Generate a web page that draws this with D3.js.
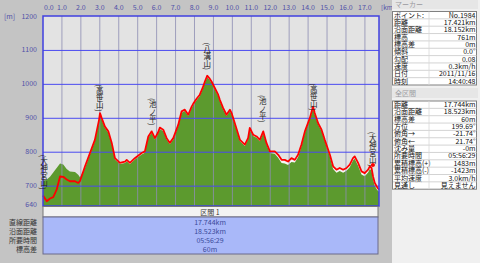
<!DOCTYPE html>
<html>
<head>
<meta charset="utf-8">
<script src="https://cdn.jsdelivr.net/npm/d3@7"></script>
<style>
  body { margin: 0; background: #c4c4c4; }
  svg { display: block; font-family: "Noto Sans CJK JP", "DejaVu Sans", sans-serif; }
</style>
</head>
<body>
<div id="chart"></div>
<script>
// profile data (km, track elevation, terrain elevation)
var kmPts = [0.00, 0.20, 0.37, 0.54, 0.72, 0.90, 1.07, 1.25, 1.42, 1.69, 1.86, 1.95, 2.22, 2.48, 2.74, 2.96,
    3.01, 3.10, 3.27, 3.45, 3.63, 3.80, 4.06, 4.33, 4.42, 4.59, 4.85, 5.21, 5.38, 5.56, 5.74, 5.91,
    6.07, 6.17, 6.35, 6.53, 6.70, 6.88, 7.14, 7.32, 7.49, 7.67, 7.85, 7.93, 8.11, 8.28, 8.43, 8.55,
    8.67, 8.78, 8.90, 9.08, 9.25, 9.34, 9.51, 9.69, 9.87, 9.96, 10.13, 10.40, 10.66, 10.83, 10.92, 11.10,
    11.28, 11.45, 11.63, 11.80, 11.98, 12.24, 12.42, 12.60, 12.77, 12.94, 13.12, 13.30, 13.47, 13.65, 13.83, 14.09,
    14.26, 14.35, 14.53, 14.71, 14.88, 15.15, 15.32, 15.50, 15.67, 15.85, 16.03, 16.20, 16.37, 16.46, 16.64, 16.82,
    16.99, 17.17, 17.26, 17.35, 17.43, 17.52, 17.64, 17.744];
var trackElev = [671, 654, 662, 666, 688, 727, 726, 718, 713, 713, 708, 713, 757, 796, 835, 894,
    914, 899, 874, 860, 826, 781, 767, 771, 776, 767, 781, 796, 801, 845, 860, 840,
    856, 871, 865, 840, 826, 840, 879, 919, 924, 909, 933, 941, 956, 968, 988, 1007,
    1024, 1017, 1007, 987, 968, 953, 929, 909, 924, 914, 884, 835, 821, 840, 870, 850,
    845, 835, 860, 826, 801, 801, 791, 776, 776, 771, 781, 776, 791, 821, 860, 899,
    933, 914, 884, 865, 835, 791, 757, 747, 752, 747, 752, 762, 781, 786, 767, 742,
    737, 747, 757, 752, 727, 708, 696, 688];
var terrainElev = [713, 718, 726, 739, 752, 765, 762, 749, 742, 740, 732, 725, 752, 792, 831, 889,
    908, 895, 870, 856, 822, 777, 764, 767, 772, 763, 777, 792, 797, 841, 856, 836,
    852, 866, 861, 836, 822, 836, 875, 915, 920, 905, 929, 937, 952, 964, 984, 1003,
    1019, 1013, 1003, 983, 964, 949, 925, 905, 920, 910, 880, 831, 817, 836, 865, 846,
    841, 831, 855, 822, 796, 794, 782, 767, 765, 761, 770, 768, 784, 816, 856, 895,
    928, 910, 880, 861, 831, 785, 749, 738, 743, 738, 744, 754, 774, 779, 759, 733,
    728, 739, 749, 744, 718, 700, 688, 682];

var xTicks = d3.range(0, 18);
var yGrid = [700, 800, 900, 1000, 1100];
var yTickLabels = [1200, 1100, 1000, 900, 800, 700, 640];

// waypoints
var peakNames = ['(大神宮山)', '(高笹山)', '(池ノ平)', '(八溝山)', '(池ノ平)', '(高笹山)', '(大神宮山)'];
var peakKm = [0.05, 3.0, 5.8, 8.67, 11.6, 14.3, 17.42];
var peakElev = [676, 906, 865, 1029, 874, 909, 744];
var markerKm = 17.421, markerElev = 761;

// tables
var sectionLabels = ['直線距離', '沿面距離', '所要時間', '標高差'];
var sectionValues = ['17.744km', '18.523km', '05:56:29', '60m'];
var markerLabels = ['ポイント:', '距離', '沿面距離', '標高', '標高差', '傾斜', '勾配', '速度', '日付', '時刻'];
var markerValues = ['No.1984', '17.421km', '18.152km', '761m', '0m', '0.0°', '0.08', '0.3km/h', '2011/11/16', '14:40:48'];
var allLabels = ['距離', '沿面距離', '標高差', '方位', '俯角→', '俯角←', '沈み量', '所要時間', '累積標高(+)', '累積標高(-)', '平均速度', '見通し'];
var allValues = ['17.744km', '18.523km', '60m', '199.69°', '-21.74°', '21.74°', '-0m', '05:56:29', '1483m', '-1423m', '3.0km/h', '見えません'];

var width = 480, height = 263;
var pLeft = 43, pRight = 379, pTop = 16, pBottom = 206;

var svg = d3.select('#chart')
    .append('svg')
    .attr('width', width)
    .attr('height', height);

svg.append('rect').attr('width', width).attr('height', height).attr('fill', '#c4c4c4');

var xScale = d3.scaleLinear().domain([0, 17.744]).range([pLeft, pRight]);
var yScale = d3.scaleLinear().domain([640, 1200]).range([pBottom, pTop]);

// plot background
svg.append('rect')
    .attr('x', pLeft).attr('y', pTop)
    .attr('width', pRight - pLeft).attr('height', pBottom - pTop)
    .attr('fill', '#e3e3e3');

var data = kmPts.map(function(k, i){ return {km: k, t: trackElev[i], g: terrainElev[i]}; });

// white under the track, then terrain
svg.append('path')
    .datum(data)
    .attr('fill', '#f6f6f6')
    .attr('d', d3.area().x(function(d){ return xScale(d.km); }).y0(pBottom).y1(function(d){ return yScale(d.t); }));

svg.append('path')
    .datum(data)
    .attr('fill', '#5c9a2e')
    .attr('d', d3.area().x(function(d){ return xScale(d.km); }).y0(pBottom).y1(function(d){ return yScale(d.g); }));

// grid
svg.selectAll('.vgrid')
    .data(xTicks.slice(1))
    .enter()
    .append('line')
    .attr('x1', function(d){ return xScale(d); })
    .attr('x2', function(d){ return xScale(d); })
    .attr('y1', pTop).attr('y2', pBottom)
    .attr('stroke', '#8e8eb4')
    .attr('stroke-width', 1)
    .attr('opacity', 0.8);

svg.selectAll('.hgrid')
    .data(yGrid)
    .enter()
    .append('line')
    .attr('x1', pLeft).attr('x2', pRight)
    .attr('y1', function(d){ return yScale(d) + 0.5; })
    .attr('y2', function(d){ return yScale(d) + 0.5; })
    .attr('stroke', '#4a4af0')
    .attr('stroke-width', 1);

// track line
svg.append('path')
    .datum(data)
    .attr('fill', 'none')
    .attr('stroke', '#ff0000')
    .attr('stroke-width', 1.8)
    .attr('stroke-linejoin', 'round')
    .attr('d', d3.line().x(function(d){ return xScale(d.km); }).y(function(d){ return yScale(d.t); }));

// border
svg.append('rect')
    .attr('x', pLeft).attr('y', pTop)
    .attr('width', pRight - pLeft).attr('height', pBottom - pTop)
    .attr('fill', 'none')
    .attr('stroke', '#4040e0')
    .attr('stroke-width', 1.5);

// axis labels
svg.selectAll('.xlab')
    .data(xTicks)
    .enter()
    .append('text')
    .attr('x', function(d){ return d === 0 ? xScale(d) + 1 : xScale(d); })
    .attr('y', 10)
    .attr('text-anchor', function(d){ return d === 0 ? 'start' : 'middle'; })
    .attr('font-size', 7)
    .attr('fill', '#5050a8')
    .text(function(d){ return d.toFixed(1); });

svg.append('text').attr('x', 381).attr('y', 10).attr('font-size', 6.5).attr('fill', '#5050a8').text('[km]');
svg.append('text').attr('x', 4).attr('y', 19).attr('font-size', 7).attr('fill', '#5050a8').text('[m]');

svg.selectAll('.ylab')
    .data(yTickLabels)
    .enter()
    .append('text')
    .attr('x', 37)
    .attr('y', function(d){ return yScale(d) + (d === 640 ? 1 : 2.5); })
    .attr('text-anchor', 'end')
    .attr('font-size', 7)
    .attr('fill', '#5050a8')
    .text(function(d){ return d; });

// waypoint labels (vertical)
peakNames.forEach(function(name, i){
    svg.append('text')
        .attr('x', xScale(peakKm[i]))
        .attr('y', yScale(peakElev[i]) - 4)
        .attr('text-anchor', 'end')
        .attr('font-size', 7.5)
        .attr('fill', '#222')
        .style('writing-mode', 'vertical-rl')
        .text(name);
});

svg.append('circle')
    .attr('cx', xScale(markerKm))
    .attr('cy', yScale(markerElev))
    .attr('r', 2)
    .attr('fill', '#ff0000');

// section table under the plot
svg.append('rect')
    .attr('x', pLeft).attr('y', 206.5)
    .attr('width', pRight - pLeft - 1).attr('height', 10.5)
    .attr('fill', '#f3f3f3').attr('stroke', '#777');
svg.append('text')
    .attr('x', 210).attr('y', 214.5)
    .attr('text-anchor', 'middle').attr('font-size', 7).attr('fill', '#333')
    .text('区間 1');
svg.append('rect')
    .attr('x', pLeft).attr('y', 217)
    .attr('width', pRight - pLeft - 1).attr('height', 37)
    .attr('fill', '#a9b8f9').attr('stroke', '#6a6a8a');

sectionLabels.forEach(function(l, i){
    var y = 225 + i * 9;
    svg.append('text').attr('x', 37).attr('y', y).attr('text-anchor', 'end')
        .attr('font-size', 7).attr('fill', '#333').text(l);
    svg.append('text').attr('x', 210).attr('y', y).attr('text-anchor', 'middle')
        .attr('font-size', 7).attr('fill', '#3a4a9a').text(sectionValues[i]);
});

// right info panel
svg.append('rect')
    .attr('x', 392).attr('y', 0)
    .attr('width', width - 392).attr('height', height)
    .attr('fill', '#f0f0f0');

function drawTable(title, titleY, labels, values, y0){
    var rowH = 7.35;
    svg.append('rect')
        .attr('x', 392).attr('y', titleY - 5)
        .attr('width', 86).attr('height', 10)
        .attr('fill', '#e6e6e6');
    svg.append('text')
        .attr('x', 395).attr('y', titleY + 2.5)
        .attr('font-size', 7).attr('fill', '#9a9aa0')
        .text(title);
    svg.append('rect')
        .attr('x', 392.5).attr('y', y0)
        .attr('width', 84).attr('height', rowH * labels.length)
        .attr('fill', '#ffffff').attr('stroke', '#808080');
    labels.forEach(function(l, i){
        var y = y0 + i * rowH;
        if (i > 0) {
            svg.append('line')
                .attr('x1', 393).attr('x2', 476.5)
                .attr('y1', y).attr('y2', y)
                .attr('stroke', '#c8c8c8').attr('stroke-width', 0.8);
        }
        svg.append('text').attr('x', 394).attr('y', y + 6)
            .attr('font-size', 7).attr('fill', '#111').text(l);
        svg.append('text').attr('x', 475.5).attr('y', y + 6)
            .attr('text-anchor', 'end')
            .attr('font-size', 7).attr('fill', '#111').text(values[i]);
    });
    svg.append('line')
        .attr('x1', 429).attr('x2', 429)
        .attr('y1', y0).attr('y2', y0 + rowH * labels.length)
        .attr('stroke', '#d8d8d8').attr('stroke-width', 0.8);
}

drawTable('マーカー', 4, markerLabels, markerValues, 11.5);
drawTable('全区間', 93, allLabels, allValues, 101);
</script>
</body>
</html>
